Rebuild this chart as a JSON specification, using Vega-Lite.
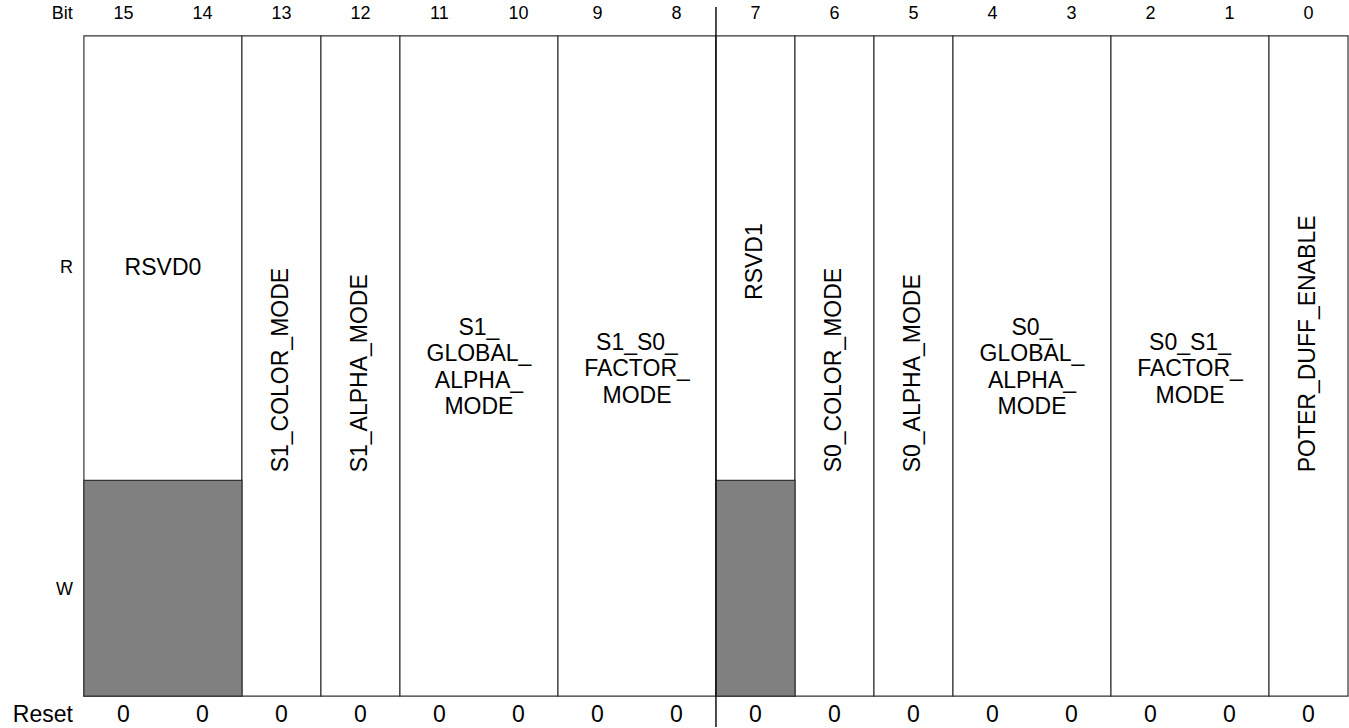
{
  "$schema": "https://vega.github.io/schema/vega-lite/v6.json",
  "width": 1349,
  "height": 728,
  "autosize": {"type": "fit", "contains": "padding"},
  "padding": 0,
  "background": "white",
  "config": {"view": {"stroke": null}, "font": "Liberation Sans", "text": {"font": "Liberation Sans", "color": "black", "fontWeight": "normal"}},
  "datasets": {
    "rowlabels": [
      {"label": "Bit"},
      {"label": "R"},
      {"label": "W"},
      {"label": "Reset"}
    ]
  },
  "data": {"values": [
    {"bit": 15, "field": "RSVD0", "label": "RSVD0", "access": "R", "reset": 0},
    {"bit": 14, "field": "RSVD0", "label": "RSVD0", "access": "R", "reset": 0},
    {"bit": 13, "field": "S1_COLOR_MODE", "label": "S1_COLOR_MODE", "access": "RW", "reset": 0},
    {"bit": 12, "field": "S1_ALPHA_MODE", "label": "S1_ALPHA_MODE", "access": "RW", "reset": 0},
    {"bit": 11, "field": "S1_GLOBAL_ALPHA_MODE", "label": "S1_\nGLOBAL_\nALPHA_\nMODE", "access": "RW", "reset": 0},
    {"bit": 10, "field": "S1_GLOBAL_ALPHA_MODE", "label": "S1_\nGLOBAL_\nALPHA_\nMODE", "access": "RW", "reset": 0},
    {"bit": 9, "field": "S1_S0_FACTOR_MODE", "label": "S1_S0_\nFACTOR_\nMODE", "access": "RW", "reset": 0},
    {"bit": 8, "field": "S1_S0_FACTOR_MODE", "label": "S1_S0_\nFACTOR_\nMODE", "access": "RW", "reset": 0},
    {"bit": 7, "field": "RSVD1", "label": "RSVD1", "access": "R", "reset": 0},
    {"bit": 6, "field": "S0_COLOR_MODE", "label": "S0_COLOR_MODE", "access": "RW", "reset": 0},
    {"bit": 5, "field": "S0_ALPHA_MODE", "label": "S0_ALPHA_MODE", "access": "RW", "reset": 0},
    {"bit": 4, "field": "S0_GLOBAL_ALPHA_MODE", "label": "S0_\nGLOBAL_\nALPHA_\nMODE", "access": "RW", "reset": 0},
    {"bit": 3, "field": "S0_GLOBAL_ALPHA_MODE", "label": "S0_\nGLOBAL_\nALPHA_\nMODE", "access": "RW", "reset": 0},
    {"bit": 2, "field": "S0_S1_FACTOR_MODE", "label": "S0_S1_\nFACTOR_\nMODE", "access": "RW", "reset": 0},
    {"bit": 1, "field": "S0_S1_FACTOR_MODE", "label": "S0_S1_\nFACTOR_\nMODE", "access": "RW", "reset": 0},
    {"bit": 0, "field": "POTER_DUFF_ENABLE", "label": "POTER_DUFF_ENABLE", "access": "RW", "reset": 0}
  ]},
  "layer": [
    {
      "transform": [{"aggregate": [{"op": "max", "field": "bit", "as": "msb"}, {"op": "min", "field": "bit", "as": "lsb"}], "groupby": ["field", "access"]}],
      "mark": {"type": "rect", "fill": "white", "stroke": "#333333", "strokeWidth": 1.2, "xOffset": -39.53, "x2Offset": 39.53},
      "encoding": {
        "x": {"field": "msb", "type": "quantitative", "scale": {"domain": [16.5625, -0.5], "nice": false, "zero": false}, "axis": null},
        "x2": {"field": "lsb"},
        "y": {"datum": 36, "type": "quantitative", "scale": {"domain": [0, 728], "reverse": true, "nice": false, "zero": false}, "axis": null},
        "y2": {"datum": 697}
      }
    },
    {
      "transform": [
        {"filter": "datum.access === 'R'"},
        {"aggregate": [{"op": "max", "field": "bit", "as": "msb"}, {"op": "min", "field": "bit", "as": "lsb"}], "groupby": ["field"]}
      ],
      "mark": {"type": "rect", "fill": "#808080", "stroke": "#333333", "strokeWidth": 1.2, "xOffset": -39.53, "x2Offset": 39.53},
      "encoding": {
        "x": {"field": "msb", "type": "quantitative"},
        "x2": {"field": "lsb"},
        "y": {"datum": 481, "type": "quantitative"},
        "y2": {"datum": 697}
      }
    },
    {
      "data": {"values": [{}]},
      "mark": {"type": "rule", "stroke": "#111111", "strokeWidth": 1.5},
      "encoding": {
        "x": {"datum": 7.5, "type": "quantitative"},
        "y": {"datum": 7, "type": "quantitative"},
        "y2": {"datum": 728}
      }
    },
    {
      "mark": {"type": "text", "fontSize": 18, "baseline": "middle", "align": "center"},
      "encoding": {
        "x": {"field": "bit", "type": "quantitative"},
        "y": {"datum": 14, "type": "quantitative"},
        "text": {"field": "bit", "type": "quantitative"}
      }
    },
    {
      "mark": {"type": "text", "fontSize": 23, "baseline": "middle", "align": "center"},
      "encoding": {
        "x": {"field": "bit", "type": "quantitative"},
        "y": {"datum": 716, "type": "quantitative"},
        "text": {"field": "reset", "type": "quantitative"}
      }
    },
    {
      "data": {"name": "rowlabels"},
      "transform": [{"filter": "datum.label === 'Bit'"}],
      "mark": {"type": "text", "fontSize": 18, "baseline": "middle", "align": "right"},
      "encoding": {"x": {"datum": 15.64, "type": "quantitative"}, "y": {"datum": 14, "type": "quantitative"}, "text": {"field": "label", "type": "nominal"}}
    },
    {
      "data": {"name": "rowlabels"},
      "transform": [{"filter": "datum.label === 'R'"}],
      "mark": {"type": "text", "fontSize": 18, "baseline": "middle", "align": "right"},
      "encoding": {"x": {"datum": 15.64, "type": "quantitative"}, "y": {"datum": 268, "type": "quantitative"}, "text": {"field": "label", "type": "nominal"}}
    },
    {
      "data": {"name": "rowlabels"},
      "transform": [{"filter": "datum.label === 'W'"}],
      "mark": {"type": "text", "fontSize": 18, "baseline": "middle", "align": "right"},
      "encoding": {"x": {"datum": 15.64, "type": "quantitative"}, "y": {"datum": 591, "type": "quantitative"}, "text": {"field": "label", "type": "nominal"}}
    },
    {
      "data": {"name": "rowlabels"},
      "transform": [{"filter": "datum.label === 'Reset'"}],
      "mark": {"type": "text", "fontSize": 23, "baseline": "middle", "align": "right"},
      "encoding": {"x": {"datum": 15.64, "type": "quantitative"}, "y": {"datum": 716, "type": "quantitative"}, "text": {"field": "label", "type": "nominal"}}
    },
    {
      "transform": [
        {"aggregate": [{"op": "mean", "field": "bit", "as": "center"}, {"op": "count", "as": "nbits"}], "groupby": ["field", "label", "access"]},
        {"filter": "datum.nbits > 1 && datum.access === 'RW' && length(split(datum.label, '\\n')) === 4"}
      ],
      "mark": {"type": "text", "fontSize": 23, "baseline": "middle", "align": "center", "lineBreak": "\n", "lineHeight": 26.5},
      "encoding": {
        "x": {"field": "center", "type": "quantitative"},
        "y": {"datum": 328, "type": "quantitative"},
        "text": {"field": "label", "type": "nominal"}
      }
    },
    {
      "transform": [
        {"aggregate": [{"op": "mean", "field": "bit", "as": "center"}, {"op": "count", "as": "nbits"}], "groupby": ["field", "label", "access"]},
        {"filter": "datum.nbits > 1 && datum.access === 'RW' && length(split(datum.label, '\\n')) === 3"}
      ],
      "mark": {"type": "text", "fontSize": 23, "baseline": "middle", "align": "center", "lineBreak": "\n", "lineHeight": 26.5},
      "encoding": {
        "x": {"field": "center", "type": "quantitative"},
        "y": {"datum": 343, "type": "quantitative"},
        "text": {"field": "label", "type": "nominal"}
      }
    },
    {
      "transform": [
        {"aggregate": [{"op": "mean", "field": "bit", "as": "center"}, {"op": "count", "as": "nbits"}], "groupby": ["field", "label", "access"]},
        {"filter": "datum.nbits === 1 && datum.access === 'RW'"}
      ],
      "mark": {"type": "text", "fontSize": 23, "baseline": "middle", "align": "left", "angle": 270},
      "encoding": {
        "x": {"field": "center", "type": "quantitative"},
        "y": {"datum": 473, "type": "quantitative"},
        "text": {"field": "label", "type": "nominal"}
      }
    },
    {
      "transform": [
        {"aggregate": [{"op": "mean", "field": "bit", "as": "center"}, {"op": "count", "as": "nbits"}], "groupby": ["field", "label", "access"]},
        {"filter": "datum.nbits > 1 && datum.access === 'R'"}
      ],
      "mark": {"type": "text", "fontSize": 23, "baseline": "middle", "align": "center"},
      "encoding": {
        "x": {"field": "center", "type": "quantitative"},
        "y": {"datum": 268, "type": "quantitative"},
        "text": {"field": "label", "type": "nominal"}
      }
    },
    {
      "transform": [
        {"aggregate": [{"op": "mean", "field": "bit", "as": "center"}, {"op": "count", "as": "nbits"}], "groupby": ["field", "label", "access"]},
        {"filter": "datum.nbits === 1 && datum.access === 'R'"}
      ],
      "mark": {"type": "text", "fontSize": 23, "baseline": "middle", "align": "center", "angle": 270},
      "encoding": {
        "x": {"field": "center", "type": "quantitative"},
        "y": {"datum": 262, "type": "quantitative"},
        "text": {"field": "label", "type": "nominal"}
      }
    }
  ]
}
